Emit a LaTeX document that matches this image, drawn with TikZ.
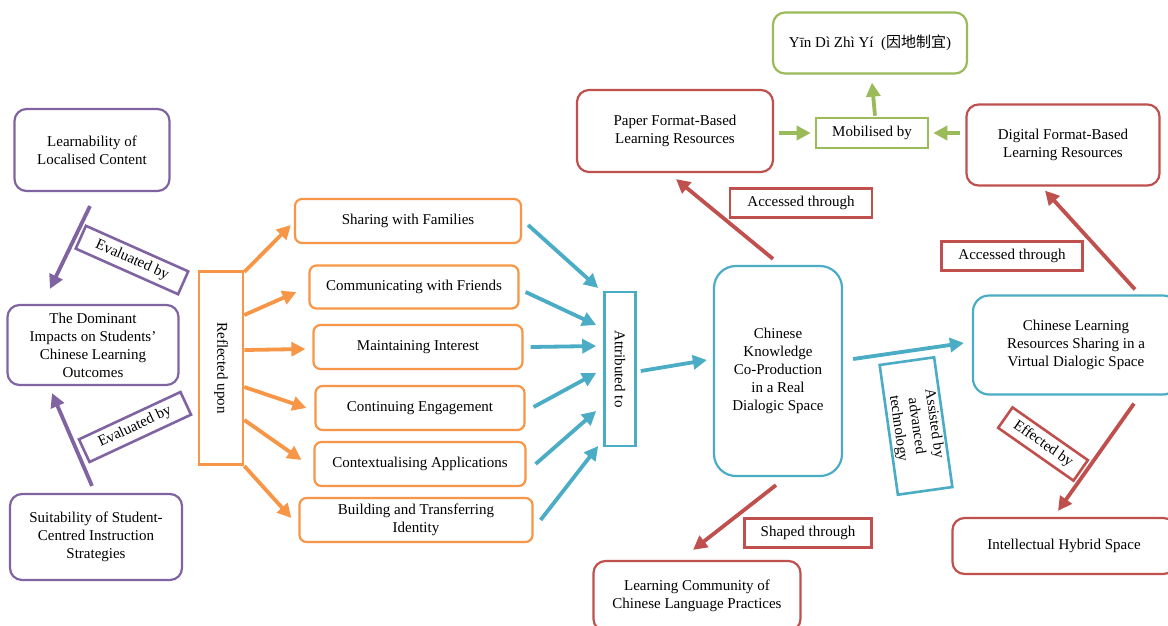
\documentclass[tikz,border=0pt]{standalone}
\usepackage{fontspec}
\setmainfont{Liberation Serif}
\newfontfamily\cjk{Noto Sans CJK SC}
\usetikzlibrary{arrows.meta,positioning,calc}
\definecolor{VPurple}{RGB}{128,100,162}
\definecolor{VOrange}{RGB}{247,150,70}
\definecolor{VBlue}{RGB}{75,172,198}
\definecolor{VRed}{RGB}{192,80,77}
\definecolor{VGreen}{RGB}{155,187,89}

\begin{document}
\begin{tikzpicture}[x=1pt,y=-1pt,
    box/.style={rounded corners=12pt,line width=2.2pt,align=center,
               inner sep=2pt,font=\fontsize{15}{18}\selectfont},
    lab/.style={line width=2.6pt,align=center,inner sep=2pt,
               font=\fontsize{15}{18}\selectfont},
    arr/.style={-{Triangle[length=14pt,width=14pt]},line width=3.8pt}
  ]
    \clip (0,0) rectangle (1168,625);
    \fill[white] (0,0) rectangle (1168,625);
    % left: evaluated outcomes
    \node[box,draw=VPurple,minimum width=155,minimum height=82] (learn) at (92,150) {Learnability of\\Localised Content};
    \node[box,draw=VPurple,minimum width=171,minimum height=80] (domin) at (93,345) {The Dominant\\Impacts on Students'\\Chinese Learning\\Outcomes};
    \node[box,draw=VPurple,minimum width=172,minimum height=86] (suit) at (96,537) {Suitability of Student-\\Centred Instruction\\Strategies};
    \node[lab,draw=VPurple,rotate=-24,minimum width=112,minimum height=25] (eval1) at (132,260) {Evaluated by};
    \node[lab,draw=VPurple,rotate=25,minimum width=112,minimum height=25] (eval2) at (135,427) {Evaluated by};
    \draw[arr,VPurple] ($(learn.south)+(-2,14)$)--($(domin.north)+(-43,-15)$);
    \draw[arr,VPurple] ($(suit.north)+(-4,-7)$)--($(domin.south)+(-41,7)$);
    % reflected upon
    \node[lab,draw=VOrange,rotate=-90,minimum width=193,minimum height=44] (refl) at (221,368) {Reflected upon};
    \node[box,draw=VOrange,rounded corners=7pt,minimum width=226,minimum height=44] (share) at (408,221) {Sharing with Families};
    \node[box,draw=VOrange,rounded corners=7pt,minimum width=209,minimum height=43] (comm) at (414,287) {Communicating with Friends};
    \node[box,draw=VOrange,rounded corners=7pt,minimum width=209,minimum height=44] (maint) at (418,347) {Maintaining Interest};
    \node[box,draw=VOrange,rounded corners=7pt,minimum width=209,minimum height=44] (cont) at (420,408) {Continuing Engagement};
    \node[box,draw=VOrange,rounded corners=7pt,minimum width=211,minimum height=44] (ctx) at (420,464) {Contextualising Applications};
    \node[box,draw=VOrange,rounded corners=7pt,minimum width=233,minimum height=44] (build) at (416,520) {Building and Transferring\\Identity};
    \draw[arr,VOrange] ($(refl.north)+(0,-96)$)--($(share.west)+(-3,4)$);
    \draw[arr,VOrange] ($(refl.north)+(0,-53)$)--($(comm.west)+(-12,5)$);
    \draw[arr,VOrange] ($(refl.north)+(0,-18)$)--($(maint.west)+(-7,2)$);
    \draw[arr,VOrange] ($(refl.north)+(0,19)$)--($(cont.west)+(-8,0)$);
    \draw[arr,VOrange] ($(refl.north)+(0,52)$)--($(ctx.west)+(-12,-4)$);
    \draw[arr,VOrange] ($(refl.north)+(0,98)$)--($(build.west)+(-7,-2)$);
    % attributed to
    \node[lab,draw=VBlue,rotate=-90,minimum width=154,minimum height=31] (attr) at (620,369) {Attributed to};
    \draw[arr,VBlue] ($(share.east)+(6,4)$)--($(attr.south)+(-5,-81)$);
    \draw[arr,VBlue] ($(comm.east)+(6,5)$)--($(attr.south)+(-7,-44)$);
    \draw[arr,VBlue] ($(maint.east)+(7,0)$)--($(attr.south)+(-7,-23)$);
    \draw[arr,VBlue] ($(cont.east)+(8,-1)$)--($(attr.south)+(-7,4)$);
    \draw[arr,VBlue] ($(ctx.east)+(9,0)$)--($(attr.south)+(-7,42)$);
    \draw[arr,VBlue] ($(build.east)+(7,0)$)--($(attr.south)+(-5,77)$);
    % real and virtual dialogic spaces
    \node[box,draw=VBlue,rounded corners=22pt,minimum width=128,minimum height=210] (ckcp) at (778,371) {Chinese\\Knowledge\\Co-Production\\in a Real\\Dialogic Space};
    \node[box,draw=VBlue,rounded corners=16pt,minimum width=206,minimum height=99] (virt) at (1076,345) {Chinese Learning\\Resources Sharing in a\\Virtual Dialogic Space};
    \node[lab,draw=VBlue,rotate=-82,minimum width=131,minimum height=55,inner sep=1pt] (assist) at (916,426) {Assisted by\\advanced\\technology};
    \draw[arr,VBlue] ($(attr.north)+(4,2)$)--($(ckcp.west)+(-6,-11)$);
    \draw[arr,VBlue] ($(ckcp.east)+(10,-12)$)--($(virt.west)+(-8,-2)$);
    % resources
    \node[box,draw=VRed,minimum width=196,minimum height=82] (paper) at (675,131) {Paper Format-Based\\Learning Resources};
    \node[box,draw=VRed,minimum width=193,minimum height=81] (digit) at (1063,145) {Digital Format-Based\\Learning Resources};
    \node[box,draw=VRed,minimum width=223,minimum height=56] (hybrid) at (1064,546) {Intellectual Hybrid Space};
    \node[box,draw=VRed,minimum width=207,minimum height=70] (commun) at (697,596) {Learning Community of\\Chinese Language Practices};
    \node[lab,draw=VRed,minimum width=142,minimum height=29] (acc1) at (801,203) {Accessed through};
    \node[lab,draw=VRed,minimum width=141,minimum height=29] (acc2) at (1012,256) {Accessed through};
    \node[lab,draw=VRed,minimum width=127,minimum height=29] (shape) at (808,533) {Shaped through};
    \node[lab,draw=VRed,rotate=-35,minimum width=92,minimum height=25] (effect) at (1043,444) {Effected by};
    \draw[arr,VRed] ($(ckcp.north)+(-5,-6)$)--($(paper.south)+(1,6)$);
    \draw[arr,VRed] ($(virt.north)+(59,-5)$)--($(digit.south)+(-18,4)$);
    \draw[arr,VRed] ($(virt.south)+(58,8)$)--($(hybrid.north)+(-6,-6)$);
    \draw[arr,VRed] ($(ckcp.south)+(-2,8)$)--($(commun.north)+(-4,-10)$);
    % mobilised by
    \node[lab,draw=VGreen,minimum width=112,minimum height=30] (mobil) at (872,133) {Mobilised by};
    \node[box,draw=VGreen,minimum width=194,minimum height=61] (yin) at (870,43) {Yīn Dì Zhì Yí\ \ ({\cjk 因地制宜})};
    \draw[arr,VGreen] ($(paper.east)+(5,2)$)--($(mobil.west)+(-4,0)$);
    \draw[arr,VGreen] ($(digit.west)+(-5,-12)$)--($(mobil.east)+(4,0)$);
    \draw[arr,VGreen] ($(mobil.north)+(3,-1)$)--($(yin.south)+(2,8)$);
  \end{tikzpicture}
\end{document}
